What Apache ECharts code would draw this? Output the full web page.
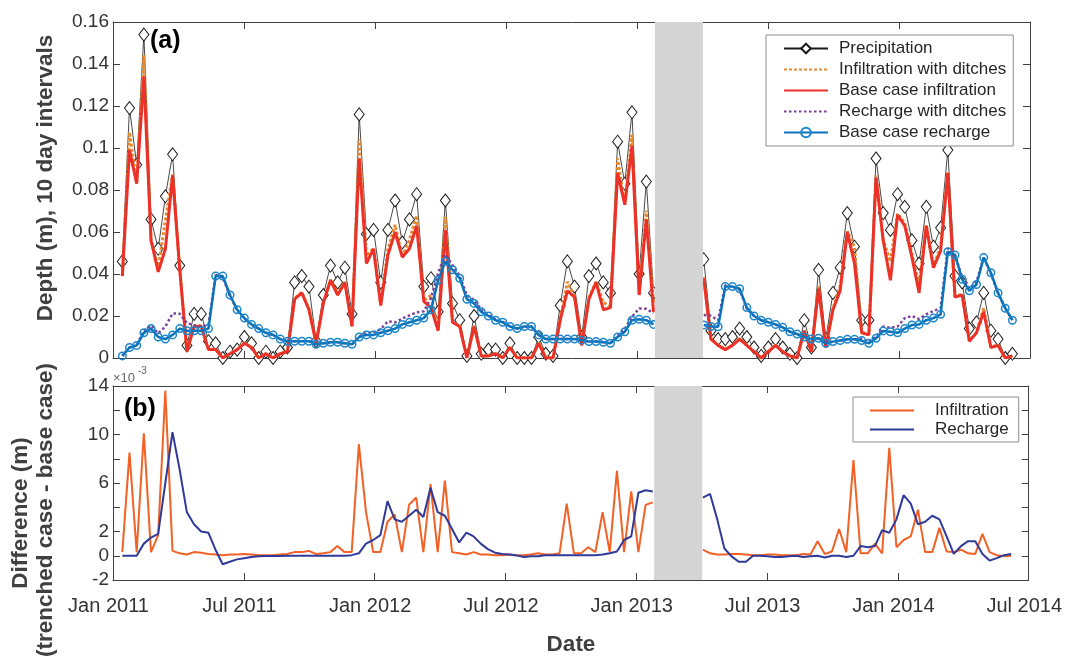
<!DOCTYPE html>
<html><head><meta charset="utf-8">
<script src="https://cdn.jsdelivr.net/npm/echarts@6/dist/echarts.min.js"></script>
<style>html,body{margin:0;padding:0;background:#fff}#c{width:1065px;height:662px}</style>
</head><body><div id="c"></div>
<script>
// ---- data (10-day intervals, first interval ends 2011-01-14) ----
const axisOrigin = '2011-01-01';
const startDate = '2011-01-14';
const stepDays = 10;
const xTickLabels = ['Jan 2011','Jul 2011','Jan 2012','Jul 2012','Jan 2013','Jul 2013','Jan 2014','Jul 2014'];
const gapStart = '2013-01-25';
const gapEnd = '2013-04-02';
const topYTicks = [0,0.02,0.04,0.06,0.08,0.1,0.12,0.14,0.16];
const bottomYLabels = ['-2','0','2','6','10','14'];

const precipitation = [
0.046,0.119,0.092,0.154,0.066,0.052,0.077,0.097,0.044,0.006,
0.021,0.021,0.008,0.007,0.000,0.003,0.004,0.010,0.007,0.000,
0.003,0.000,0.003,0.005,0.036,0.039,0.034,0.008,0.030,0.044,
0.036,0.043,0.021,0.116,0.059,0.061,0.036,0.061,0.075,0.055,
0.066,0.078,0.034,0.038,0.022,0.075,0.026,0.018,0.001,0.020,
0.002,0.004,0.004,0.000,0.007,0.000,0.000,0.000,0.010,0.002,
0.001,0.025,0.046,0.034,0.010,0.039,0.045,0.036,0.031,0.103,
0.083,0.117,0.040,0.084,0.031,null,null,null,null,null,
null,0.047,0.013,0.009,0.009,0.010,0.014,0.010,0.005,0.001,
0.005,0.009,0.005,0.002,0.000,0.018,0.005,0.042,0.009,0.031,
0.043,0.069,0.053,0.018,0.018,0.095,0.069,0.061,0.078,0.072,
0.056,0.045,0.072,0.053,0.062,0.099,0.039,0.036,0.014,0.017,
0.031,0.013,0.009,0.000,0.002];

const infiltrationDitches = [
0.0393,0.1075,0.0833,0.1441,0.0563,0.0427,0.0656,0.0874,0.0422,0.0031,
0.0153,0.0153,0.0042,0.0041,0.0001,0.0021,0.0041,0.0072,0.0051,0.0001,
0.0021,0.0001,0.0021,0.0032,0.0283,0.0313,0.0234,0.0072,0.0262,0.0373,
0.0308,0.0363,0.0153,0.1042,0.0486,0.0523,0.0253,0.0518,0.0634,0.0483,
0.0562,0.0678,0.0273,0.0299,0.0133,0.0672,0.0173,0.0152,0.0001,0.0153,
0.0011,0.0011,0.0021,0.0001,0.0051,0.0001,0.0001,0.0001,0.0072,0.0001,
0.0001,0.0182,0.0363,0.0292,0.0062,0.0287,0.0363,0.0266,0.0243,0.0950,
0.0733,0.1063,0.0303,0.0702,0.0264,null,null,null,null,null,
null,0.0385,0.0092,0.0061,0.0041,0.0062,0.0092,0.0061,0.0031,0.0001,
0.0031,0.0061,0.0031,0.0011,0.0001,0.0132,0.0031,0.0342,0.0052,0.0234,
0.0342,0.0603,0.0529,0.0122,0.0112,0.0870,0.0562,0.0459,0.0687,0.0643,
0.0496,0.0348,0.0633,0.0433,0.0533,0.0884,0.0293,0.0305,0.0082,0.0122,
0.0238,0.0053,0.0061,0.0000,0.0010];

const infiltrationBase = [
0.039,0.099,0.083,0.134,0.056,0.041,0.052,0.087,0.042,0.003,
0.015,0.015,0.004,0.004,0.000,0.002,0.004,0.007,0.005,0.000,
0.002,0.000,0.002,0.003,0.028,0.031,0.023,0.007,0.026,0.037,
0.030,0.036,0.015,0.095,0.045,0.052,0.025,0.049,0.060,0.048,
0.052,0.063,0.027,0.024,0.013,0.061,0.017,0.015,0.000,0.015,
0.001,0.001,0.002,0.000,0.005,0.000,0.000,0.000,0.007,0.000,
0.000,0.018,0.032,0.029,0.006,0.028,0.036,0.023,0.024,0.088,
0.073,0.101,0.030,0.066,0.022,null,null,null,null,null,
null,0.038,0.009,0.006,0.004,0.006,0.009,0.006,0.003,0.000,
0.003,0.006,0.003,0.001,0.000,0.013,0.003,0.033,0.005,0.023,
0.032,0.060,0.045,0.012,0.011,0.086,0.056,0.037,0.068,0.063,
0.048,0.031,0.063,0.043,0.051,0.088,0.029,0.030,0.008,0.012,
0.022,0.005,0.006,0.000,0.001];

const rechargeDitches = [
0.001,0.005,0.006,0.013,0.0155,0.0118,0.015,0.0212,0.0211,0.0166,
0.0156,0.015,0.0159,0.0395,0.0383,0.0295,0.0227,0.0188,0.0159,0.014,
0.012,0.011,0.009,0.008,0.008,0.008,0.008,0.0065,0.007,0.0075,
0.0075,0.007,0.0066,0.0102,0.012,0.0123,0.0137,0.0175,0.017,0.0188,
0.0203,0.0218,0.0222,0.0286,0.0406,0.0493,0.0442,0.0391,0.0299,0.0276,
0.023,0.0206,0.0183,0.0172,0.0151,0.014,0.0149,0.015,0.011,0.009,
0.009,0.009,0.009,0.009,0.0086,0.0079,0.0079,0.0076,0.0072,0.0104,
0.0138,0.0196,0.0236,0.0234,0.0213,null,null,null,null,null,
null,0.0205,0.0201,0.0179,0.0346,0.034,0.0325,0.0235,0.020,0.018,
0.017,0.0159,0.0145,0.0125,0.0114,0.0099,0.009,0.0094,0.0068,0.0078,
0.0083,0.0088,0.0089,0.0091,0.0077,0.0102,0.015,0.0144,0.015,0.019,
0.020,0.0186,0.0208,0.0223,0.0238,0.0522,0.0492,0.0383,0.0332,0.0362,
0.048,0.0402,0.0308,0.0238,0.0182];

const rechargeBase = [
0.001,0.005,0.006,0.012,0.014,0.010,0.009,0.011,0.014,0.013,
0.013,0.013,0.014,0.039,0.039,0.030,0.023,0.019,0.016,0.014,
0.012,0.011,0.009,0.008,0.008,0.008,0.008,0.0065,0.007,0.0075,
0.0075,0.007,0.0065,0.010,0.011,0.011,0.012,0.013,0.014,0.016,
0.017,0.018,0.019,0.023,0.037,0.046,0.042,0.038,0.028,0.026,
0.022,0.020,0.018,0.017,0.015,0.014,0.015,0.015,0.011,0.009,
0.009,0.009,0.009,0.009,0.0085,0.0078,0.0078,0.0075,0.007,0.010,
0.0125,0.018,0.0184,0.018,0.016,null,null,null,null,null,
null,0.0157,0.015,0.0149,0.034,0.034,0.033,0.024,0.020,0.018,
0.017,0.016,0.0146,0.0125,0.0114,0.010,0.009,0.0094,0.007,0.0078,
0.0083,0.0089,0.0089,0.0083,0.007,0.0094,0.0129,0.0125,0.012,0.014,
0.0157,0.016,0.018,0.019,0.0208,0.0506,0.049,0.0375,0.032,0.035,
0.0478,0.0406,0.031,0.0237,0.018];

// difference (trenched - base), in units of 1e-3 m
const infiltrationDiff = [
0.3,8.5,0.3,10.1,0.3,1.7,13.6,0.4,0.2,0.1,
0.3,0.25,0.15,0.1,0.05,0.1,0.1,0.15,0.1,0.05,
0.05,0.05,0.1,0.15,0.3,0.3,0.4,0.15,0.2,0.3,
0.8,0.3,0.3,9.2,3.6,0.3,0.3,2.8,3.4,0.3,
4.2,4.8,0.3,5.9,0.3,6.2,0.3,0.2,0.1,0.3,
0.1,0.1,0.05,0.05,0.1,0.05,0.05,0.1,0.2,0.1,
0.1,0.2,4.3,0.2,0.2,0.7,0.3,3.6,0.3,7.0,
0.3,5.3,0.3,4.2,4.4,null,null,null,null,null,
null,0.5,0.2,0.1,0.1,0.15,0.15,0.1,0.05,0.05,
0.1,0.1,0.05,0.05,0.05,0.15,0.1,1.2,0.15,0.35,
2.2,0.3,7.9,0.2,0.2,1.0,0.2,8.9,0.7,1.3,
1.6,3.8,0.3,0.3,2.3,0.35,0.3,0.5,0.2,0.15,
1.8,0.3,0.05,-0.05,0.0];

const rechargeDiff = [
0,0,0,1.0,1.5,1.8,6.0,10.2,7.1,3.6,
2.6,2.0,1.9,0.5,-0.7,-0.5,-0.3,-0.2,-0.1,-0.05,
-0.03,-0.02,-0.02,-0.01,0,0,0,0,0,0,
0,0,0.05,0.2,1.0,1.3,1.7,4.5,3.0,2.8,
3.3,3.8,3.2,5.6,3.6,3.3,2.2,1.1,1.9,1.6,
1.0,0.55,0.25,0.15,0.1,0.03,-0.1,-0.05,-0.05,0.05,
0.05,0.05,0.05,0.05,0.05,0.05,0.05,0.1,0.2,0.35,
1.3,1.6,5.2,5.4,5.3,null,null,null,null,null,
null,4.8,5.1,3.0,0.6,-0.05,-0.5,-0.5,0,0,
-0.05,-0.1,-0.1,-0.05,0,-0.1,-0.05,0,-0.15,0,
0,-0.1,0,0.8,0.7,0.8,2.1,1.9,3.0,5.0,
4.3,2.6,2.8,3.3,3.0,1.6,0.15,0.8,1.2,1.2,
0.15,-0.4,-0.2,0.05,0.15];

// ---- helpers ----
const DAY = 86400000;
const dayOf = s => (Date.parse(s + 'T00:00:00Z') - Date.parse(axisOrigin + 'T00:00:00Z')) / DAY;
const x0 = dayOf(startDate);
const pts = arr => arr.map((v, i) => [x0 + i * stepDays, v == null ? '-' : v]);
const halfYear = 182.5;
const xMax = halfYear * (xTickLabels.length - 1);

const FONT = '"Liberation Sans", Arial, Helvetica, sans-serif';
const AX = '#404040';
const TXT = '#333333';

function xAx(grid, pos, labels) {
  return {
    type: 'value', gridIndex: grid, position: pos, min: 0, max: xMax, interval: halfYear,
    axisLine: { onZero: false, lineStyle: { color: AX, width: 1 } },
    axisTick: { inside: true, length: 7, lineStyle: { color: AX } },
    splitLine: { show: false },
    axisLabel: labels ? {
      show: true, fontSize: 20, color: TXT, fontFamily: FONT, margin: 16, padding: [0, 9, 0, 0],
      formatter: v => xTickLabels[Math.round(v / halfYear)] || ''
    } : { show: false }
  };
}
function yAx(grid, pos, min, max, interval, fmt) {
  return {
    type: 'value', gridIndex: grid, position: pos, min, max, interval,
    axisLine: { show: true, onZero: false, lineStyle: { color: AX, width: 1 } },
    axisTick: { show: true, inside: true, length: 7, lineStyle: { color: AX } },
    splitLine: { show: false },
    axisLabel: fmt ? { show: true, fontSize: 19, color: TXT, fontFamily: FONT, margin: 4, formatter: fmt } : { show: false }
  };
}

const topFmt = v => { const r = topYTicks.find(t => Math.abs(t - v) < 1e-9); return r === undefined ? '' : String(r); };
const botFmt = v => { const s = String(Math.round(v)); return bottomYLabels.includes(s) ? s : ''; };

const gapArea = {
  silent: true, z: 20,
  itemStyle: { color: '#d4d4d4', opacity: 1, borderWidth: 0 },
  data: [[{ xAxis: dayOf(gapStart) }, { xAxis: dayOf(gapEnd) }]]
};
const noMark = { opacity: 0 };

const chart = echarts.init(document.getElementById('c'), null, { renderer: 'canvas' });
chart.setOption({
  animation: false,
  backgroundColor: '#fff',
  textStyle: { fontFamily: FONT },
  grid: [
    { left: 113, right: 35, top: 22, height: 336 },
    { left: 113, right: 35, top: 386, height: 194 }
  ],
  xAxis: [xAx(0, 'bottom', false), xAx(0, 'top', false), xAx(1, 'bottom', true), xAx(1, 'top', false)],
  yAxis: [
    yAx(0, 'left', 0, 0.16, 0.02, topFmt), yAx(0, 'right', 0, 0.16, 0.02, null),
    yAx(1, 'left', -2, 14, 2, botFmt), yAx(1, 'right', -2, 14, 2, null)
  ],
  legend: [
    {
      data: [
        { name: 'Precipitation' },
        { name: 'Infiltration with ditches', itemStyle: noMark },
        { name: 'Base case infiltration', itemStyle: noMark },
        { name: 'Recharge with ditches', itemStyle: noMark },
        { name: 'Base case recharge' }
      ],
      orient: 'vertical', left: 766, top: 35, itemWidth: 44, itemHeight: 12, itemGap: 0,
      padding: [3, 7, 3, 17], borderColor: '#8c8c8c', borderWidth: 1, backgroundColor: '#fff',
      selectedMode: false,
      textStyle: { fontSize: 17, color: '#262626', fontFamily: FONT, lineHeight: 21, padding: [0, 0, 0, 6] }
    },
    {
      data: [
        { name: 'Infiltration', itemStyle: noMark },
        { name: 'Recharge', itemStyle: noMark }
      ],
      orient: 'vertical', left: 853, top: 397, itemWidth: 44, itemHeight: 12, itemGap: 0,
      padding: [4, 10, 3, 16], borderColor: '#8c8c8c', borderWidth: 1, backgroundColor: '#fff',
      selectedMode: false,
      textStyle: { fontSize: 17, color: '#262626', fontFamily: FONT, lineHeight: 19, padding: [0, 0, 0, 16] }
    }
  ],
  series: [
    {
      name: 'Precipitation', type: 'line', xAxisIndex: 0, yAxisIndex: 0, data: pts(precipitation),
      symbol: 'diamond', symbolSize: [10, 13], showSymbol: true,
      lineStyle: { color: '#1a1a1a', width: 0.8 },
      itemStyle: { color: '#ffffff', borderColor: '#1a1a1a', borderWidth: 1 }, z: 2
    },
    {
      name: 'Infiltration with ditches', type: 'line', xAxisIndex: 0, yAxisIndex: 0, data: pts(infiltrationDitches),
      symbol: 'none', lineStyle: { color: '#E58B2F', width: 3, type: [3, 2] },
      itemStyle: { color: '#E58B2F' }, z: 3
    },
    {
      name: 'Base case infiltration', type: 'line', xAxisIndex: 0, yAxisIndex: 0, data: pts(infiltrationBase),
      symbol: 'none', lineStyle: { color: '#EC3228', width: 3 },
      itemStyle: { color: '#EC3228' }, z: 4
    },
    {
      name: 'Recharge with ditches', type: 'line', xAxisIndex: 0, yAxisIndex: 0, data: pts(rechargeDitches),
      symbol: 'none', lineStyle: { color: '#7E3F98', width: 2.5, type: [2.5, 2.5] },
      itemStyle: { color: '#7E3F98' }, z: 5
    },
    {
      name: 'Base case recharge', type: 'line', xAxisIndex: 0, yAxisIndex: 0, data: pts(rechargeBase),
      symbol: 'circle', symbolSize: 7.5, showSymbol: true,
      lineStyle: { color: '#0A72BA', width: 2.5 },
      itemStyle: { color: 'rgba(255,255,255,0)', borderColor: '#1B86C9', borderWidth: 1.5 }, z: 6
    },
    { name: 'gapTop', type: 'line', xAxisIndex: 0, yAxisIndex: 0, data: [], z: 20, markArea: gapArea },
    {
      name: 'Infiltration', type: 'line', xAxisIndex: 2, yAxisIndex: 2, data: pts(infiltrationDiff),
      symbol: 'none', lineStyle: { color: '#F26125', width: 2 }, itemStyle: { color: '#F26125' }, z: 3
    },
    {
      name: 'Recharge', type: 'line', xAxisIndex: 2, yAxisIndex: 2, data: pts(rechargeDiff),
      symbol: 'none', lineStyle: { color: '#2F3A99', width: 2 }, itemStyle: { color: '#2F3A99' }, z: 4
    },
    { name: 'gapBottom', type: 'line', xAxisIndex: 2, yAxisIndex: 2, data: [], z: 20, markArea: gapArea }
  ],
  graphic: [
    { type: 'text', left: 150, top: 29, style: { text: '(a)', font: 'bold 25px ' + FONT, fill: '#000' } },
    { type: 'text', left: 124, top: 397, style: { text: '(b)', font: 'bold 25px ' + FONT, fill: '#000' } },
    { type: 'text', x: 113, y: 372, style: { text: '×10', font: '13px ' + FONT, fill: '#666' } },
    { type: 'text', x: 138, y: 366, style: { text: '-3', font: '10px ' + FONT, fill: '#666' } },
    { type: 'text', x: 46, y: 178, rotation: Math.PI / 2,
      style: { text: 'Depth (m), 10 day intervals', font: 'bold 22.5px ' + FONT, fill: '#404040', align: 'center', verticalAlign: 'middle' } },
    { type: 'text', x: 21, y: 513, rotation: Math.PI / 2,
      style: { text: 'Difference (m)', font: 'bold 22.5px ' + FONT, fill: '#404040', align: 'center', verticalAlign: 'middle' } },
    { type: 'text', x: 46, y: 510, rotation: Math.PI / 2,
      style: { text: '(trenched case - base case)', font: 'bold 22.5px ' + FONT, fill: '#404040', align: 'center', verticalAlign: 'middle' } },
    { type: 'text', x: 571, y: 645,
      style: { text: 'Date', font: 'bold 22.5px ' + FONT, fill: '#404040', align: 'center', verticalAlign: 'middle' } }
  ]
});
</script>
</body></html>
